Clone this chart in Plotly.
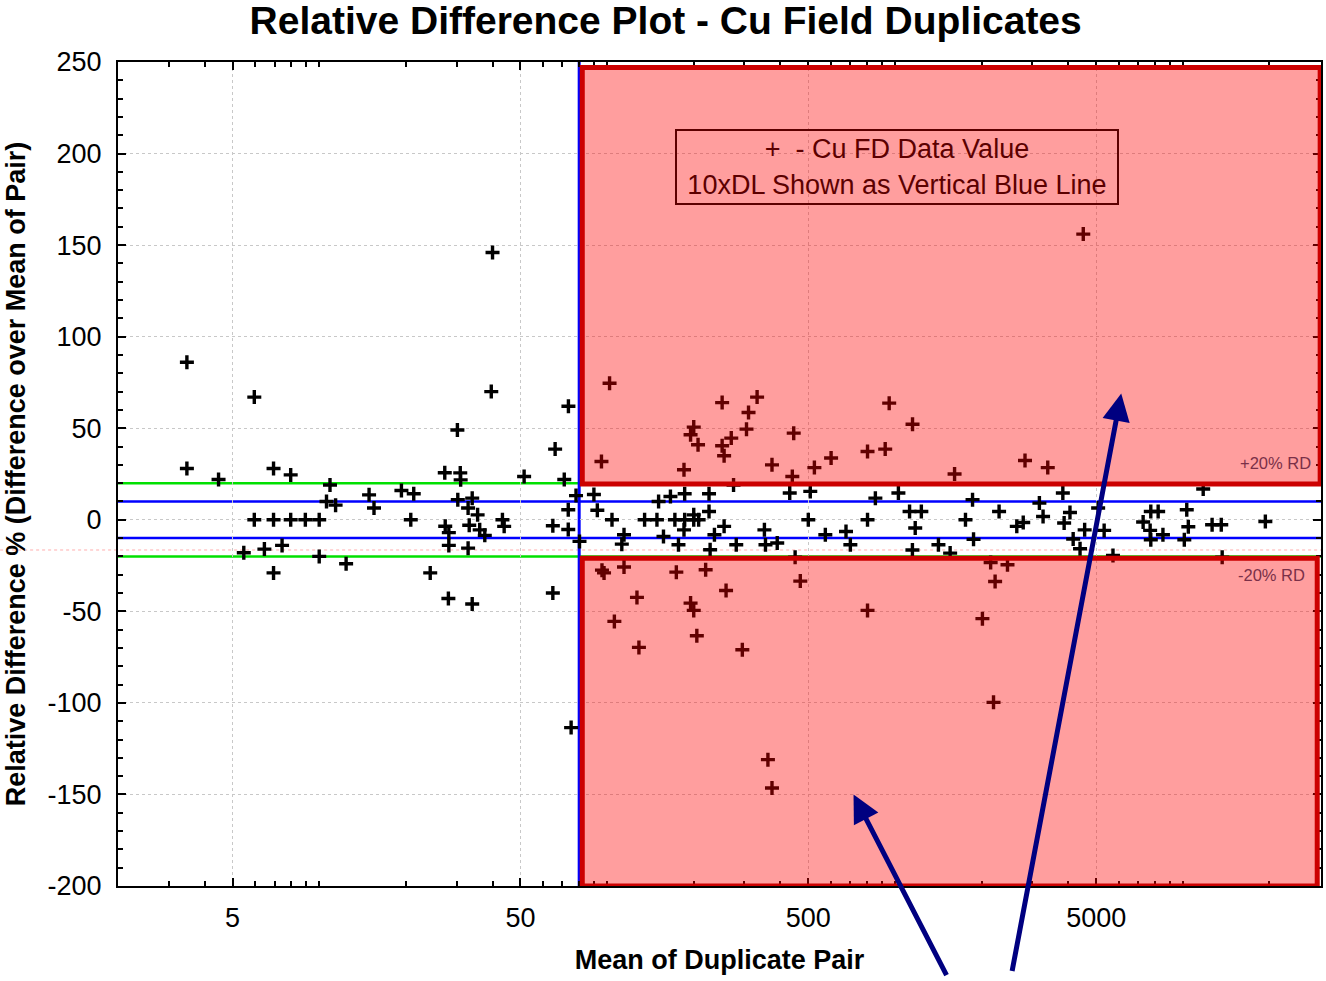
import math
import plotly.graph_objects as go

# ---------------- data ----------------
# pairs below 10xDL (left of the vertical blue line)
low_mean = [3.47, 3.47, 4.47, 5.47, 5.95, 5.95, 6.45, 6.94, 6.94, 6.94, 7.43, 7.96, 7.96,
            8.95, 10.0, 10.0, 10.9, 10.6, 11.4, 12.4, 14.9, 15.5, 19.3, 21.3, 20.8, 24.3,
            27.3, 30.9, 31.0, 30.2, 30.3, 34.0, 32.9, 35.5, 27.4, 28.2, 28.2, 33.2, 36.1,
            37.6, 32.9, 28.1, 34.0, 40.0, 39.6, 43.3, 43.9, 51.5, 66.0, 71.0, 73.4, 64.8,
            73.3, 73.3, 64.8, 78.0, 80.2, 75.0]
low_rd = [86, 28, 22, -18, 67, 0, -16, 28, 0, -29, -14, 24.5, 0,
          0, 0, -20, 19, 10, 8, -24, 13.6, 6.4, 16, 14.2, 0, -29,
          25.7, 25.6, 21.8, 49, 11, 11.8, 6.4, 2.7, -3.5, -7, -14, -3, -5.5,
          -8.5, -15.5, -43, -46, 146, 70, 0, -3.6, 23.6, 38.6, 22, 62, -3.3,
          5.5, -5.3, -40, 13.2, -11.8, -113.5]

# pairs above 10xDL inside the +/-20% band
band_mean = [90, 92.5, 104, 114.5, 112.5, 135, 149, 151, 166, 186, 172, 186, 200, 208, 185,
             157, 177, 226, 226, 200, 255, 236, 228, 281, 275, 352, 355, 390, 431, 508,
             500, 573, 676, 700, 855, 803, 1028, 1124, 1235, 1176, 1150, 1416, 1555, 1758,
             1860, 1875, 450, 2300, 2650, 2790, 3175, 3270, 3830, 4055, 3870, 4160, 4395,
             4560, 5080, 5330, 5720, 7280, 7740, 8210, 7700, 8530, 7740, 10320, 10450,
             10120, 11770, 12640, 13600, 19350, 13700]
band_rd = [13.8, 5.2, 0, -8.2, -13.3, 0, 0, 10, 12.7, 14.2, 0, 0, 0, 0, -5.5,
           -9.1, -13.6, 14.2, 4.5, 2.7, -3.6, -8.2, -16.4, -13.6, 19, -5.5, -13.6, -12.7, 14.6, 15.5,
           0, -8.2, -6.4, -13.6, 11.8, 0, 14.6, 4.5, 4.5, -4.5, -16.5, -13.6, -18.2, 0,
           11, -10.7, -20.5, 4.5, -3.6, -1.5, 9.1, 1.8, 14.6, 4.0, -1.8, -10.5, -15.8,
           -5.5, 6.4, -5.8, -19.5, -1.2, 4.5, 4.5, -5.8, -8.2, -10.9, 5.5, -3.8,
           -10.9, 16.8, -2.7, -2.7, -0.9, -20.5]

# pairs above 10xDL with RD > +20%
high_mean = [95.6, 102, 251, 332, 310, 305, 270, 251, 255, 200, 195, 207, 185, 374, 445,
             440, 525, 600, 803, 925, 955, 1151, 1611, 2830, 3395, 4510]
high_rd = [31.8, 74.6, 64, 67, 58.6, 49.5, 44.6, 40.4, 35, 50.6, 46.4, 41, 27.3, 30, 47.3,
           23.6, 28.5, 33.7, 37.3, 38.6, 63.7, 52.2, 25, 32.4, 28.5, 156]

# pairs above 10xDL with RD < -20%
neg_mean = [96, 97.6, 114.5, 174, 220, 259, 127, 106, 195, 200, 205, 129, 295, 469, 803,
            362, 374, 2013, 2228, 2200, 2150, 2460]
neg_rd = [-27.5, -29, -25.8, -28.6, -27.3, -38.6, -42.4, -55.5, -45.5, -49.5, -63.3, -69.7,
          -71, -33.5, -49.5, -131, -146.5, -54, -33.7, -99.7, -23.3, -24.6]

ten_x_dl = 80          # 10 x detection limit (vertical blue line)
rd_outer = 20          # +/-20% RD limits
rd_inner = 10          # +/-10% RD limits
faint_line = -16.5
x_min, x_max = 2.0, 30200
y_min, y_max = -200, 250
x_tick_vals = [5, 50, 500, 5000]
x_tick_text = ["5", "50", "500", "5000"]
y_tick_vals = list(range(-200, 251, 50))
y_tick_text = [str(v) for v in y_tick_vals]
x_minor_vals = [m * 10 ** e for e in range(0, 5) for m in range(1, 10)]

# ---------------- figure ----------------
mean_all = low_mean + band_mean + high_mean + neg_mean
rd_all = low_rd + band_rd + high_rd + neg_rd

FONT = "Liberation Sans, Arial, sans-serif"
fig = go.Figure()
fig.add_trace(go.Scatter(
    x=mean_all, y=rd_all, mode="markers", showlegend=False,
    marker=dict(symbol="cross-thin", size=10, color="black",
                line=dict(color="black", width=3.4)),
))

shapes = []
shapes.append(dict(type="line", xref="paper", yref="y", x0=-0.098, x1=1, y0=faint_line, y1=faint_line,
                   line=dict(color="rgba(255,140,140,0.7)", width=1, dash="dot"), layer="between"))
for v in (rd_outer, -rd_outer):
    shapes.append(dict(type="line", xref="paper", yref="y", x0=0, x1=1, y0=v, y1=v,
                       line=dict(color="#00E000", width=2.5), layer="between"))
for v in (rd_inner, -rd_inner):
    shapes.append(dict(type="line", xref="paper", yref="y", x0=0, x1=1, y0=v, y1=v,
                       line=dict(color="#0000FF", width=2.5), layer="between"))
shapes.append(dict(type="line", xref="x", yref="paper", x0=ten_x_dl, x1=ten_x_dl, y0=0, y1=1,
                   line=dict(color="#0000FF", width=3), layer="between"))
shapes.append(dict(type="rect", xref="x", yref="y", x0=82, x1=30000, y0=rd_outer - 0.5, y1=247,
                   fillcolor="rgba(255,0,0,0.38)", line=dict(color="#CC0000", width=5), layer="above"))
shapes.append(dict(type="rect", xref="x", yref="y", x0=82, x1=29300, y0=-200, y1=-rd_outer - 1,
                   fillcolor="rgba(255,0,0,0.38)", line=dict(color="#CC0000", width=5), layer="above"))

# arrow heads (annotation x on a log axis is given as log10)
arrow_lower_head = (718, -150)
arrow_upper_head = (6110, 69)

annotations = [
    dict(xref="paper", yref="paper", x=0.6475, y=0.872, xanchor="center", yanchor="middle",
         text="+&nbsp;&nbsp;- Cu FD Data Value<br>10xDL Shown as Vertical Blue Line",
         showarrow=False, align="center", width=436, height=68,
         font=dict(family=FONT, size=27, color="#5c0000"),
         bordercolor="#5c0000", borderwidth=2, borderpad=2),
    dict(xref="paper", yref="y", x=0.9935, y=31, xanchor="right", yanchor="middle",
         text="+20% RD", showarrow=False, font=dict(family=FONT, size=16.5, color="#7a3048")),
    dict(xref="paper", yref="y", x=0.9885, y=-30, xanchor="right", yanchor="middle",
         text="-20% RD", showarrow=False, font=dict(family=FONT, size=16.5, color="#7a3048")),
    dict(xref="x", yref="y", x=math.log10(arrow_lower_head[0]), y=arrow_lower_head[1],
         ax=96, ay=200, text=" ", showarrow=True,
         arrowhead=2, arrowsize=1.1, arrowwidth=5, arrowcolor="#000080", standoff=0),
    dict(xref="x", yref="y", x=math.log10(arrow_upper_head[0]), y=arrow_upper_head[1],
         ax=-111, ay=602, text=" ", showarrow=True,
         arrowhead=2, arrowsize=1.1, arrowwidth=5, arrowcolor="#000080", standoff=0),
]

fig.update_layout(
    width=1326, height=981,
    margin=dict(l=118, r=3, t=62, b=95),
    paper_bgcolor="white", plot_bgcolor="white",
    title=dict(text="<b>Relative Difference Plot - Cu Field Duplicates</b>",
               x=0.502, xanchor="center", y=1 - 20 / 981, yanchor="middle", yref="container",
               font=dict(family=FONT, size=39, color="black")),
    shapes=shapes, annotations=annotations,
    xaxis=dict(type="log", range=[math.log10(x_min), math.log10(x_max)],
               tickmode="array", tickvals=x_tick_vals, ticktext=x_tick_text,
               ticks="inside", ticklen=8, tickwidth=1.5, tickcolor="black",
               minor=dict(tickmode="array", tickvals=x_minor_vals, ticks="inside", ticklen=5,
                          tickcolor="black", showgrid=False),
               showgrid=True, gridcolor="#C8C8C8", griddash="dot", gridwidth=1,
               showline=True, linecolor="black", linewidth=2, mirror="ticks",
               zeroline=False, ticklabelstandoff=7,
               tickfont=dict(family=FONT, size=27, color="black"),
               title=dict(text="<b>Mean of Duplicate Pair</b>", standoff=18,
                          font=dict(family=FONT, size=27, color="black"))),
    yaxis=dict(range=[y_min, y_max], tickmode="array", tickvals=y_tick_vals, ticktext=y_tick_text,
               ticks="inside", ticklen=8, tickwidth=1.5, tickcolor="black",
               minor=dict(dtick=10, ticks="inside", ticklen=5, tickcolor="black", showgrid=False),
               showgrid=True, gridcolor="#C8C8C8", griddash="dot", gridwidth=1,
               showline=True, linecolor="black", linewidth=2, mirror="ticks",
               zeroline=False, ticklabelstandoff=9,
               tickfont=dict(family=FONT, size=27, color="black"),
               title=dict(text="<b>Relative Difference % (Difference over Mean of Pair)</b>",
                          standoff=14, font=dict(family=FONT, size=27, color="black"))),
)

fig.write_html("out.html")
